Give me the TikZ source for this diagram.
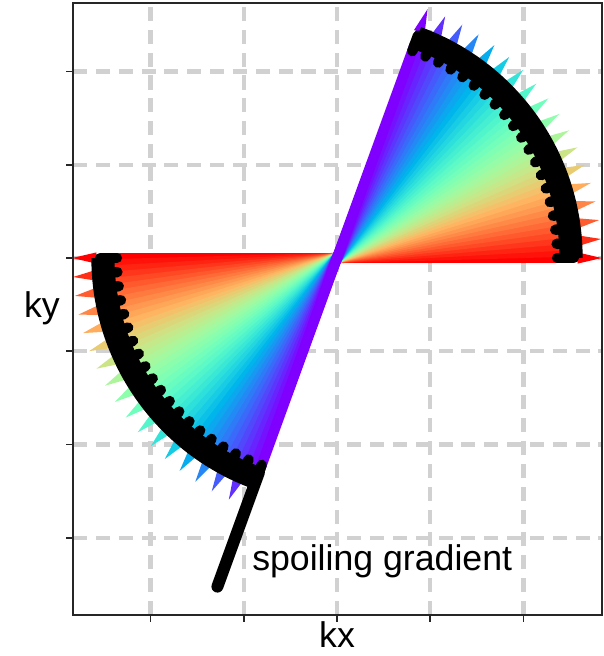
\documentclass[tikz,border=0pt]{standalone}
\usepackage{fontspec}
\setmainfont{Liberation Sans}
\usetikzlibrary{positioning}

\begin{document}
\begin{tikzpicture}[
    x=1.865cm, y=1.865cm,
    gridline/.style={draw=black!18, line width=2.3pt, dash pattern=on 8pt off 5pt},
    axframe/.style={draw=black!85, line width=0.9pt},
    axtick/.style={draw=black!85, line width=0.9pt},
    spoke/.style={line width=5.9pt},
    band/.style={draw=black, line width=13.2pt},
    bump/.style={draw=black, line width=5.9pt, line cap=round},
    spoil/.style={draw=black, line width=6.8pt, line cap=round},
    lbl/.style={font=\fontsize{20.3}{24}\selectfont, inner sep=0pt}
]
\useasboundingbox (-3.614,-4.268) rectangle (2.863,2.767);

% ---------------- Grid ----------------
\foreach \gx in {-2,...,2}
    \draw[gridline] (\gx,-3.828) -- (\gx,2.735);
\foreach \gy in {-3,...,2}
    \draw[gridline] (-2.831,\gy) -- (2.842,\gy);

% ---------------- Rainbow spokes ----------------
\foreach \i in {0,...,44}{
    \pgfmathsetmacro\ang{70*\i/44}
    \pgfmathsetmacro\cpos{1-\i/44}
    \pgfmathsetmacro\colR{min(1,abs(2*\cpos-0.5))}
    \pgfmathsetmacro\colG{max(0,sin(180*\cpos))}
    \pgfmathsetmacro\colB{max(0,cos(90*\cpos))}
    \definecolor{spk}{rgb}{\colR,\colG,\colB}
    \draw[spoke, spk] (\ang:2.45) -- ({\ang+180}:2.45);
}

% ---------------- Arrow heads ----------------
\foreach \k in {0,...,17}{
    \pgfmathsetmacro\ang{70*\k/17}
    \pgfmathsetmacro\cpos{1-\k/17}
    \pgfmathsetmacro\colR{min(1,abs(2*\cpos-0.5))}
    \pgfmathsetmacro\colG{max(0,sin(180*\cpos))}
    \pgfmathsetmacro\colB{max(0,cos(90*\cpos))}
    \definecolor{spk}{rgb}{\colR,\colG,\colB}
    \fill[spk, rotate=\ang] (2.58,0.06) -- (2.84,0) -- (2.58,-0.06) -- cycle;
    \fill[spk, rotate=\ang+180] (2.58,0.06) -- (2.84,0) -- (2.58,-0.06) -- cycle;
}

% ---------------- Sampled arc ----------------
\draw[band] (0:2.51) arc[start angle=0, end angle=70, radius=2.51];
\draw[band] (180:2.51) arc[start angle=180, end angle=250, radius=2.51];
\foreach \k in {0,...,19}{
    \pgfmathsetmacro\ang{70*\k/19}
    \draw[bump] (\ang:2.36) -- (\ang:2.54);
    \draw[bump] ({\ang+180}:2.36) -- ({\ang+180}:2.54);
}

% ---------------- Spoiler ----------------
\coordinate (spoilA) at (250:2.45);
\coordinate (spoilB) at (250:3.75);
\draw[spoil] (spoilA) -- (spoilB);
\node[lbl, anchor=base west] (spoilLabel) at (-0.912,-3.346) {spoiling gradient};

% ---------------- Axes ----------------
\draw[axframe] (-2.831,-3.828) rectangle (2.842,2.735);
\foreach \gx in {-2,...,2}
    \draw[axtick] (\gx,-3.828) -- ++(0,-0.075);
\foreach \gy in {-3,...,2}
    \draw[axtick] (-2.831,\gy) -- ++(-0.075,0);
\node[lbl, anchor=base] (kx) at (0,-4.18) {kx};
\node[lbl, anchor=base] (ky) at (-3.164,-0.643) {ky};

\end{tikzpicture}
\end{document}
